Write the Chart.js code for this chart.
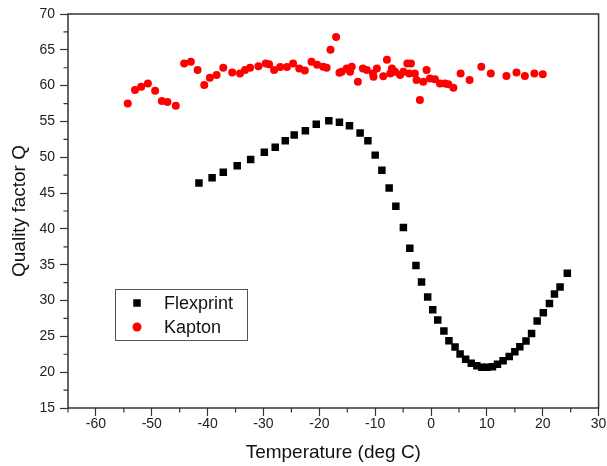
<!DOCTYPE html>
<html>
<head>
<meta charset="utf-8">
<script src="https://cdn.jsdelivr.net/npm/chart.js@4/dist/chart.umd.min.js"></script>
<style>
  html, body { margin: 0; padding: 0; background: #fff; }
  #wrap { width: 607px; height: 466px; position: relative; }
</style>
</head>
<body>
<div id="wrap"><canvas id="c" width="607" height="466"></canvas></div>
<script>
// Quality factor vs temperature for two substrates
const flexprintTemp = [-41.55,-39.2,-37.2,-34.7,-32.3,-29.85,-27.9,-26.1,-24.5,-22.5,-20.55,-18.3,-16.4,-14.6,-12.7,-11.3,-10.0,-8.8,-7.5,-6.3,
  -4.95,-3.8,-2.7,-1.7,-0.6,0.3,1.2,2.3,3.2,4.3,5.2,6.2,7.2,8.2,9.1,10.0,11.0,11.9,12.9,14.0,15.0,15.9,17.0,18.0,19.0,20.1,21.2,22.1,23.1,24.4];
const flexprintQ = [46.4,47.15,47.9,48.8,49.7,50.7,51.4,52.3,53.1,53.7,54.6,55.1,54.9,54.4,53.4,52.3,50.3,48.2,45.7,43.15,
  40.2,37.3,34.9,32.6,30.5,28.7,27.3,25.75,24.4,23.5,22.55,21.8,21.25,20.9,20.7,20.7,20.75,21.1,21.6,22.2,22.85,23.55,24.35,25.4,27.15,28.3,29.6,30.9,31.9,33.8];

const kaptonTemp = [-54.3,-53.0,-51.9,-50.7,-49.4,-48.2,-47.2,-45.7,-44.2,-43.0,
  -41.8,-40.6,-39.6,-38.4,-37.2,-35.6,-34.2,-33.3,-32.4,-30.9,
  -29.6,-29.0,-28.1,-27.0,-25.8,-24.7,-23.6,-22.6,-21.4,-20.4,
  -19.3,-18.7,-18.0,-17.0,-16.4,-16.0,-15.1,-14.5,-14.2,-13.1,
  -12.2,-11.5,-10.4,-10.3,-9.7,-8.55,-7.9,-7.3,-7.0,-6.45,
  -5.55,-4.95,-4.25,-3.9,-3.6,-2.9,-2.6,-2.0,-1.4,-0.8,
  -0.2,0.7,1.6,2.5,3.1,4.0,5.3,6.9,9.0,10.7,
  13.5,15.3,16.8,18.5,20.0];
const kaptonQ = [57.5,59.4,59.85,60.3,59.3,57.85,57.7,57.2,63.1,63.35,
  62.2,60.1,61.1,61.5,62.5,61.85,61.7,62.2,62.5,62.7,
  63.1,63.0,62.2,62.6,62.6,63.1,62.4,62.1,63.35,62.9,
  62.65,62.5,65.0,66.8,61.8,61.95,62.4,61.95,62.65,60.55,
  62.4,62.2,61.7,61.25,62.4,61.3,63.6,61.7,62.4,61.95,
  61.5,61.95,63.1,61.7,63.1,61.7,60.8,58.0,60.55,62.2,
  61.0,60.9,60.3,60.3,60.2,59.7,61.7,60.8,62.65,61.7,
  61.35,61.85,61.35,61.7,61.6];

const xTicks = [-60,-50,-40,-30,-20,-10,0,10,20,30];
const yTicks = [15,20,25,30,35,40,45,50,55,60,65,70];
const xMinorTicks = [-65,-55,-45,-35,-25,-15,-5,5,15,25];
const yMinorTicks = [17.5,22.5,27.5,32.5,37.5,42.5,47.5,52.5,57.5,62.5,67.5];

const FONT = "'Liberation Sans', Arial, Helvetica, sans-serif";
const AXIS_COLOR = '#333';

const toPoints = (xs, ys) => xs.map((x, i) => ({ x: x, y: ys[i] }));

// Frame around the plot plus the short minor ticks on both axes
const framePlugin = {
  id: 'frame',
  afterDraw(chart) {
    const { ctx, chartArea: a, scales } = chart;
    ctx.save();
    ctx.strokeStyle = AXIS_COLOR;
    ctx.lineWidth = 1.5;
    ctx.strokeRect(a.left, a.top, a.right - a.left, a.bottom - a.top);
    ctx.lineWidth = 1.2;
    ctx.beginPath();
    xMinorTicks.forEach(v => {
      const px = scales.x.getPixelForValue(v);
      ctx.moveTo(px, a.bottom);
      ctx.lineTo(px, a.bottom + 4.5);
    });
    yMinorTicks.forEach(v => {
      const py = scales.y.getPixelForValue(v);
      ctx.moveTo(a.left, py);
      ctx.lineTo(a.left - 4.5, py);
    });
    ctx.stroke();
    ctx.restore();
  }
};

// Boxed legend inside the plot area
const legendPlugin = {
  id: 'boxLegend',
  afterDraw(chart) {
    const { ctx, chartArea: a } = chart;
    const x0 = a.left + 47, y0 = a.top + 275, w = 132, h = 51;
    ctx.save();
    ctx.fillStyle = '#fff';
    ctx.fillRect(x0, y0, w, h);
    ctx.strokeStyle = '#555';
    ctx.lineWidth = 1;
    ctx.strokeRect(x0 + 0.5, y0 + 0.5, w, h);
    ctx.font = '18px ' + FONT;
    ctx.textBaseline = 'middle';
    chart.data.datasets.forEach((ds, i) => {
      const cy = y0 + 14 + i * 24;
      const cx = x0 + 22;
      ctx.fillStyle = ds.backgroundColor;
      if (ds.pointStyle === 'rect') {
        const s = ds.pointRadius * Math.SQRT1_2;
        ctx.fillRect(cx - s, cy - s, 2 * s, 2 * s);
      } else {
        ctx.beginPath();
        ctx.arc(cx, cy, ds.pointRadius + 0.5, 0, Math.PI * 2);
        ctx.fill();
      }
      ctx.fillStyle = '#111';
      ctx.fillText(ds.label, x0 + 49, cy + 1);
    });
    ctx.restore();
  }
};

new Chart(document.getElementById('c'), {
  type: 'scatter',
  data: {
    datasets: [
      {
        label: 'Flexprint',
        data: toPoints(flexprintTemp, flexprintQ),
        pointStyle: 'rect',
        pointRadius: 5.3,
        backgroundColor: '#000',
        borderColor: '#000',
        borderWidth: 0
      },
      {
        label: 'Kapton',
        data: toPoints(kaptonTemp, kaptonQ),
        pointStyle: 'circle',
        pointRadius: 4,
        backgroundColor: '#ff0000',
        borderColor: '#ff0000',
        borderWidth: 0
      }
    ]
  },
  options: {
    responsive: false,
    animation: false,
    events: [],
    layout: { autoPadding: false, padding: { top: 14, right: 8.4, left: 0, bottom: 0 } },
    plugins: { legend: { display: false }, tooltip: { enabled: false } },
    scales: {
      x: {
        type: 'linear',
        min: -65,
        max: 30,
        afterFit(scale) { scale.height = 58; },
        afterBuildTicks(scale) { scale.ticks = xTicks.map(v => ({ value: v })); },
        grid: { drawOnChartArea: false, drawTicks: true, tickLength: 8, tickColor: AXIS_COLOR, tickWidth: 1.2 },
        border: { display: false },
        ticks: { padding: 0, color: '#222', font: { family: FONT, size: 14 }, maxRotation: 0, autoSkip: false },
        title: { display: true, text: 'Temperature (deg C)', color: '#111', font: { family: FONT, size: 19 }, padding: { top: 0, bottom: 2 } }
      },
      y: {
        type: 'linear',
        min: 15,
        max: 70,
        afterFit(scale) { scale.width = 68; },
        afterBuildTicks(scale) { scale.ticks = yTicks.map(v => ({ value: v })); },
        grid: { drawOnChartArea: false, drawTicks: true, tickLength: 8, tickColor: AXIS_COLOR, tickWidth: 1.2 },
        border: { display: false },
        ticks: { padding: 5, color: '#222', font: { family: FONT, size: 14 }, autoSkip: false },
        title: { display: true, text: 'Quality factor Q', color: '#111', font: { family: FONT, size: 19 }, padding: { top: 8, bottom: 0 } }
      }
    }
  },
  plugins: [framePlugin, legendPlugin]
});
</script>
</body>
</html>
